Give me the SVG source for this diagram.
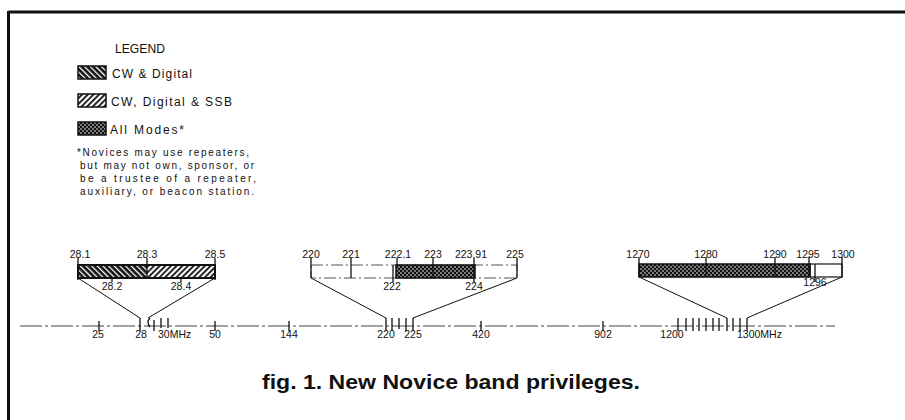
<svg xmlns="http://www.w3.org/2000/svg" width="905" height="420" viewBox="0 0 905 420">
<style>
.t{font-family:"Liberation Sans",Arial,sans-serif;font-size:10.5px;fill:#111}
.s{font-family:"Liberation Sans",Arial,sans-serif;font-size:10px;fill:#111}
.lg{font-family:"Liberation Sans",Arial,sans-serif;font-size:12px;fill:#111}
.cap{font-family:"Liberation Sans",Arial,sans-serif;font-size:20px;font-weight:bold;fill:#111}
.ln{stroke:#111;stroke-width:1;fill:none}
.tk{stroke:#111;stroke-width:1.3;fill:none}
.bx{stroke:#111;stroke-width:2;}
.ax{stroke:#444;stroke-width:1.2;stroke-dasharray:22 3 3 3;fill:none}
.dd{stroke:#555;stroke-width:1;stroke-dasharray:12 3 2 3;fill:none}
</style>
<defs>
<pattern id="bk" width="4" height="4" patternUnits="userSpaceOnUse" patternTransform="rotate(-45)">
<rect width="4" height="4" fill="#111"/><rect x="0" width="1.3" height="4" fill="#fff"/>
</pattern>
<pattern id="fw" width="4" height="4" patternUnits="userSpaceOnUse" patternTransform="rotate(45)">
<rect width="4" height="4" fill="#fff"/><rect x="0" width="1.8" height="4" fill="#111"/>
</pattern>
<pattern id="dt" width="4" height="4" patternUnits="userSpaceOnUse">
<rect width="4" height="4" fill="#111"/><circle cx="1" cy="1" r="0.8" fill="#fff"/><circle cx="3" cy="3" r="0.8" fill="#fff"/>
</pattern>
</defs>
<rect width="905" height="420" fill="#fff"/>
<g id="frame">
<line x1="8.5" y1="12" x2="905" y2="12" stroke="#111" stroke-width="3"/>
<line x1="8.5" y1="11" x2="8.5" y2="420" stroke="#111" stroke-width="3"/>
</g>
<g id="legend">
<text class="lg" x="115" y="53" textLength="50" lengthAdjust="spacingAndGlyphs">LEGEND</text>
<rect x="78" y="66" width="28" height="13" fill="url(#bk)" stroke="#111" stroke-width="1.5"/>
<text class="lg" x="112" y="78" textLength="80" lengthAdjust="spacing">CW &amp; Digital</text>
<rect x="78" y="94" width="28" height="13" fill="url(#fw)" stroke="#111" stroke-width="1.5"/>
<text class="lg" x="111" y="106" textLength="121" lengthAdjust="spacing">CW, Digital &amp; SSB</text>
<rect x="78" y="122" width="28" height="13" fill="url(#dt)" stroke="#111" stroke-width="1.5"/>
<text class="lg" x="110" y="134" textLength="74" lengthAdjust="spacing">All Modes*</text>
<text class="s" x="77" y="156" textLength="172" lengthAdjust="spacing">*Novices may use repeaters,</text>
<text class="s" x="80" y="169" textLength="174" lengthAdjust="spacing">but may not own, sponsor, or</text>
<text class="s" x="80" y="182" textLength="176" lengthAdjust="spacing">be a trustee of a repeater,</text>
<text class="s" x="80" y="195" textLength="174" lengthAdjust="spacing">auxiliary, or beacon station.</text>
</g>
<g id="band-10m">
<rect x="78" y="265" width="69" height="13" fill="url(#bk)"/>
<rect x="147" y="265" width="68" height="13" fill="url(#fw)"/>
<rect x="78" y="265" width="137" height="13" fill="none" class="bx"/>
<line class="tk" x1="78" y1="258" x2="78" y2="280"/>
<line class="tk" x1="147" y1="258" x2="147" y2="278"/>
<line class="tk" x1="215" y1="258" x2="215" y2="280"/>
<line class="tk" x1="112" y1="278" x2="112" y2="282"/>
<line class="tk" x1="181" y1="278" x2="181" y2="282"/>
<text class="t" x="80" y="258" text-anchor="middle">28.1</text>
<text class="t" x="147" y="258" text-anchor="middle">28.3</text>
<text class="t" x="215" y="258" text-anchor="middle">28.5</text>
<text class="t" x="112" y="290" text-anchor="middle">28.2</text>
<text class="t" x="181" y="290" text-anchor="middle">28.4</text>
</g>
<g id="band-220">
<rect x="311" y="265" width="206" height="13" class="dd"/>
<rect x="396" y="265" width="79" height="13" fill="url(#dt)" stroke="#111" stroke-width="1.5"/>
<line class="tk" x1="311" y1="258" x2="311" y2="278"/>
<line class="tk" x1="351" y1="258" x2="351" y2="278"/>
<line class="tk" x1="397" y1="258" x2="397" y2="265"/>
<line class="tk" x1="393" y1="265" x2="393" y2="282"/>
<line class="tk" x1="433" y1="258" x2="433" y2="278"/>
<line class="tk" x1="474" y1="258" x2="474" y2="283"/>
<line class="tk" x1="517" y1="258" x2="517" y2="278"/>
<text class="t" x="311" y="258" text-anchor="middle">220</text>
<text class="t" x="351" y="258" text-anchor="middle">221</text>
<text class="t" x="398" y="258" text-anchor="middle">222.1</text>
<text class="t" x="433" y="258" text-anchor="middle">223</text>
<text class="t" x="471" y="258" text-anchor="middle">223.91</text>
<text class="t" x="515" y="258" text-anchor="middle">225</text>
<text class="t" x="392" y="290" text-anchor="middle">222</text>
<text class="t" x="474" y="290" text-anchor="middle">224</text>
</g>
<g id="band-1270">
<rect x="639" y="264" width="171" height="13" fill="url(#dt)" stroke="#111" stroke-width="1.5"/>
<rect x="810" y="264" width="32" height="13" fill="none" stroke="#111" stroke-width="1.2"/>
<line class="tk" x1="639" y1="257" x2="639" y2="277"/>
<line class="tk" x1="706" y1="257" x2="706" y2="277"/>
<line class="tk" x1="775" y1="257" x2="775" y2="277"/>
<line class="tk" x1="809" y1="257" x2="809" y2="277"/>
<line class="tk" x1="842" y1="257" x2="842" y2="277"/>
<line class="tk" x1="815" y1="264" x2="815" y2="282"/>
<text class="t" x="638" y="258" text-anchor="middle">1270</text>
<text class="t" x="706" y="258" text-anchor="middle">1280</text>
<text class="t" x="775" y="258" text-anchor="middle">1290</text>
<text class="t" x="808" y="258" text-anchor="middle">1295</text>
<text class="t" x="843" y="258" text-anchor="middle">1300</text>
<text class="t" x="815" y="286" text-anchor="middle" font-size="7.5">1296</text>
</g>
<g id="connectors">
<line class="ln" x1="78" y1="278" x2="140" y2="318"/>
<line class="ln" x1="215" y1="278" x2="148" y2="318"/>
<line class="ln" x1="311" y1="278" x2="386" y2="318"/>
<line class="ln" x1="517" y1="278" x2="413" y2="318"/>
<line class="ln" x1="639" y1="277" x2="727" y2="318"/>
<line class="ln" x1="842" y1="277" x2="747" y2="318"/>
</g>
<g id="axis">
<line class="ax" x1="20" y1="326" x2="835" y2="326"/>
<g class="tk">
<line x1="99" y1="321" x2="99" y2="331"/>
<line x1="140" y1="318" x2="140" y2="331"/>
<path d="M150,318 Q146,322 150,327"/>
<line x1="154" y1="320" x2="154" y2="331"/>
<line x1="161" y1="318" x2="161" y2="328"/>
<line x1="168" y1="318" x2="168" y2="328"/>
<line x1="215" y1="321" x2="215" y2="331"/>
<line x1="289" y1="321" x2="289" y2="331"/>
<line x1="386" y1="318" x2="386" y2="331"/>
<line x1="392" y1="318" x2="392" y2="331"/>
<line x1="399" y1="318" x2="399" y2="329"/>
<line x1="406" y1="318" x2="406" y2="331"/>
<line x1="413" y1="318" x2="413" y2="331"/>
<line x1="481" y1="321" x2="481" y2="331"/>
<line x1="603" y1="321" x2="603" y2="331"/>
<line x1="678" y1="318" x2="678" y2="331"/>
<line x1="686" y1="318" x2="686" y2="331"/>
<line x1="693" y1="318" x2="693" y2="331"/>
<line x1="699" y1="318" x2="699" y2="331"/>
<line x1="706" y1="318" x2="706" y2="331"/>
<line x1="713" y1="318" x2="713" y2="331"/>
<line x1="719" y1="318" x2="719" y2="331"/>
<line x1="727" y1="318" x2="727" y2="331"/>
<line x1="733" y1="318" x2="733" y2="331"/>
<line x1="740" y1="318" x2="740" y2="331"/>
<line x1="747" y1="318" x2="747" y2="331"/>
</g>
<text class="t" x="98" y="338" text-anchor="middle">25</text>
<text class="t" x="141" y="338" text-anchor="middle">28</text>
<text class="t" x="158" y="338">30MHz</text>
<text class="t" x="215" y="338" text-anchor="middle">50</text>
<text class="t" x="289" y="338" text-anchor="middle">144</text>
<text class="t" x="386" y="338" text-anchor="middle">220</text>
<text class="t" x="413" y="338" text-anchor="middle">225</text>
<text class="t" x="481" y="338" text-anchor="middle">420</text>
<text class="t" x="603" y="338" text-anchor="middle">902</text>
<text class="t" x="672" y="338" text-anchor="middle">1200</text>
<text class="t" x="737" y="338">1300MHz</text>
</g>
<g id="caption">
<text class="cap" x="262" y="389" textLength="378" lengthAdjust="spacingAndGlyphs">fig. 1. New Novice band privileges.</text>
</g>
</svg>
